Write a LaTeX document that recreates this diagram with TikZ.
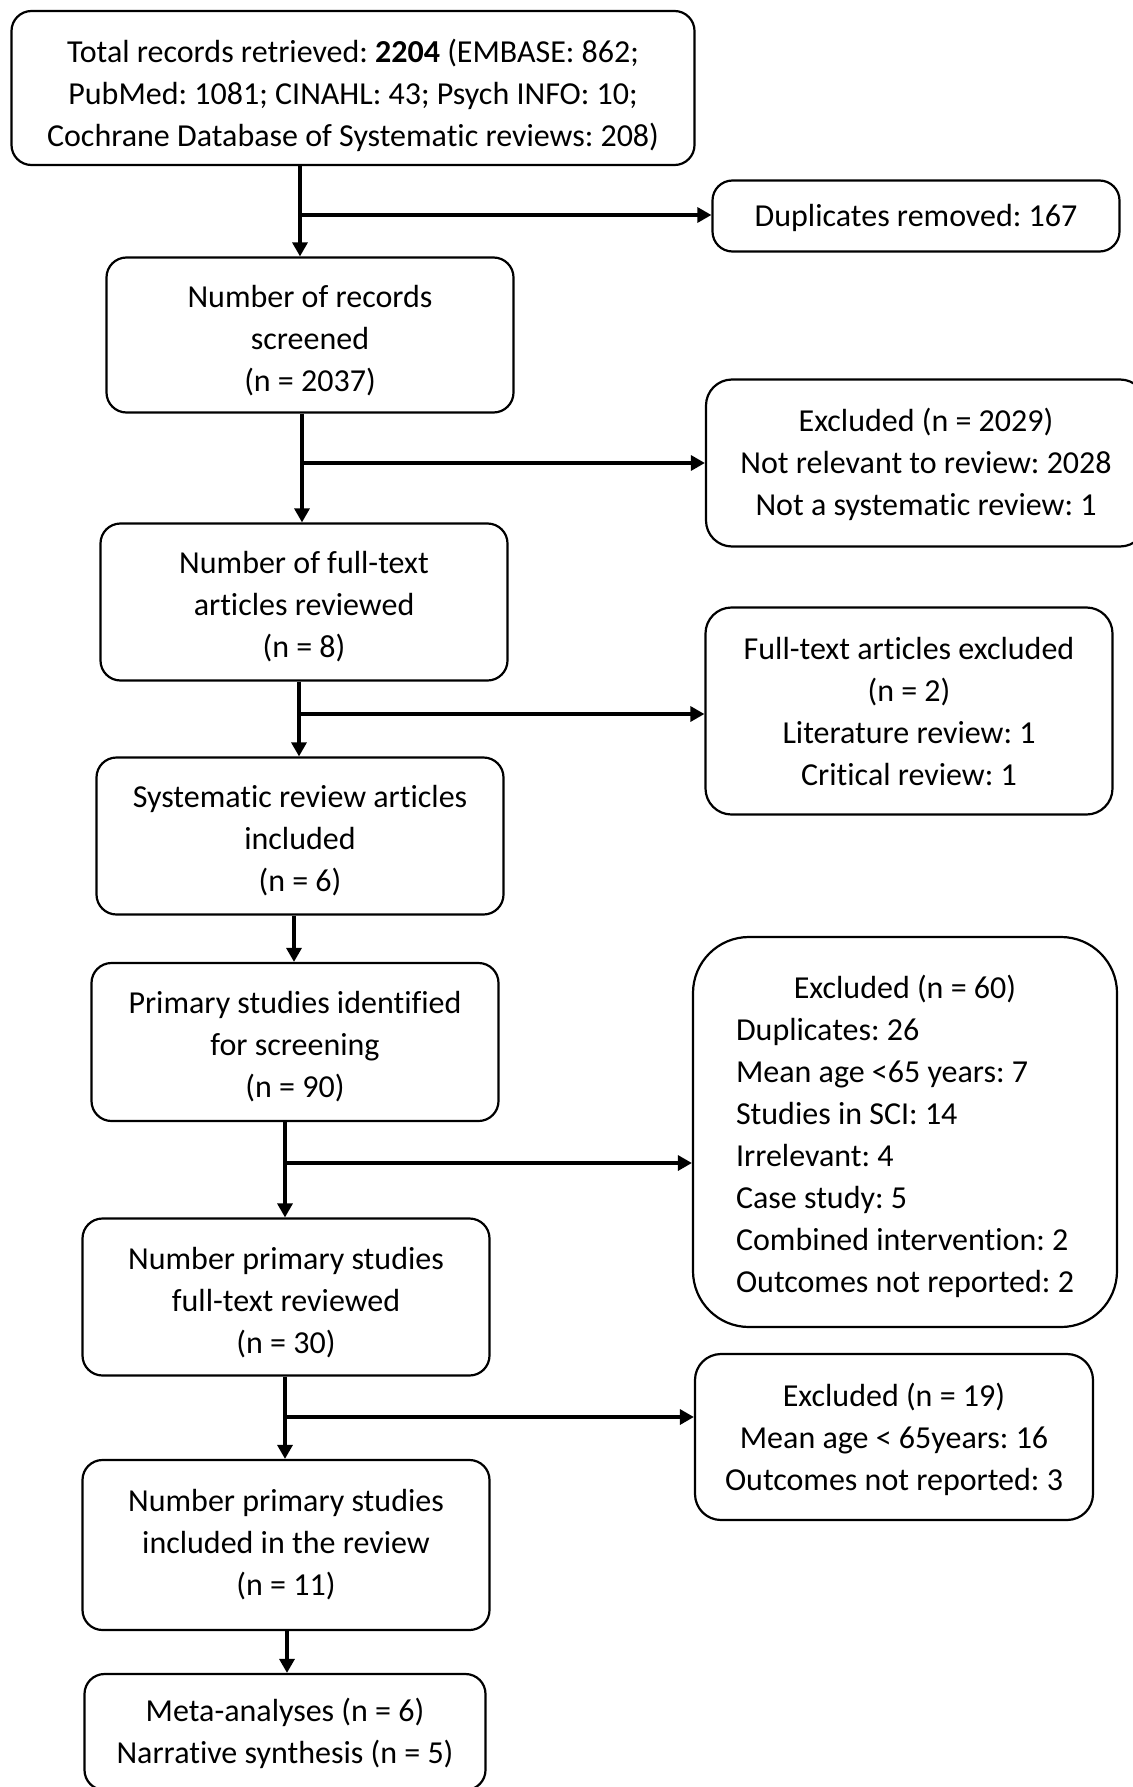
\documentclass[tikz,border=0pt]{standalone}
\usepackage{fontspec}
\setmainfont{Carlito}[Ligatures=NoCommon]
\frenchspacing
\usetikzlibrary{arrows.meta, positioning}
% centred lines; the optional height lowers the text a little
\newcommand{\boxlines}[2][0pt]{\begin{tabular}{@{}c@{}}\rule{0pt}{#1}#2\end{tabular}}
\tikzset{
  every picture/.style={font=\fontsize{16}{21}\selectfont},
  box/.style={draw, line width=1.1pt, rounded corners=10pt, inner sep=0pt, minimum width=#1},
  box/.default=203.5pt,
  flow/.style={-{Triangle[length=7pt, width=7.5pt]}, line width=1.6pt},
}
\begin{document}
\begin{tikzpicture}[x=0.5pt, y=-0.5pt]
  \useasboundingbox (0,0) rectangle (1132,1787);
  % main column
  \node[box=341.5pt, minimum height=77pt] (total) at (353,88)
    {\boxlines[23pt]{Total records retrieved: \textbf{2204} (EMBASE: 862;\\
     PubMed: 1081; CINAHL: 43; Psych INFO: 10;\\
     Cochrane Database of Systematic reviews: 208)}};
  \node[box, minimum height=77.5pt] (screened) at (310,335)
    {\boxlines[21pt]{Number of records\\ screened\\ (n = 2037)}};
  \node[box, minimum height=78.5pt] (fulltext) at (304,602)
    {\boxlines[20pt]{Number of full-text\\ articles reviewed\\ (n = 8)}};
  \node[box, minimum height=78.5pt] (sysrev) at (300,836)
    {\boxlines[20pt]{Systematic review articles\\ included\\ (n = 6)}};
  \node[box, minimum height=79pt] (primary) at (295,1042)
    {\boxlines[20pt]{Primary studies identified\\ for screening\\ (n = 90)}};
  \node[box, minimum height=78.5pt] (primfull) at (286,1297)
    {\boxlines[20.5pt]{Number primary studies\\ full-text reviewed\\ (n = 30)}};
  \node[box, minimum height=85pt] (included) at (286,1545)
    {\boxlines{Number primary studies\\ included in the review\\ (n = 11)}};
  \node[box=200.5pt, minimum height=58pt] (synth) at (285,1732)
    {\boxlines[17pt]{Meta-analyses (n = 6)\\ Narrative synthesis (n = 5)}};
  % exclusion boxes
  \node[box, minimum height=35.5pt] (dup) at (916,216) {\boxlines[17pt]{Duplicates removed: 167}};
  \node[box=220pt, minimum height=83.5pt, rounded corners=13pt] (excl1) at (926,463)
    {\boxlines[16.5pt]{Excluded (n = 2029)\\ Not relevant to review: 2028\\ Not a systematic review: 1}};
  \node[box, minimum height=103.5pt, rounded corners=13pt] (excl2) at (909,711)
    {\boxlines[18pt]{Full-text articles excluded\\ (n = 2)\\ Literature review: 1\\ Critical review: 1}};
  \node[box=212pt, minimum height=195pt, rounded corners=28pt] (excl3) at (905,1132)
    {\begin{tabular}{@{}l@{}}
      \multicolumn{1}{@{}c@{}}{\rule{0pt}{20pt}Excluded (n = 60)}\\
      Duplicates: 26\\
      Mean age <65 years: 7\\
      Studies in SCI: 14\\
      Irrelevant: 4\\
      Case study: 5\\
      Combined intervention: 2\\
      Outcomes not reported: 2
    \end{tabular}};
  \node[box=199pt, minimum height=83pt, rounded corners=13pt] (excl4) at (894,1437)
    {\boxlines[18pt]{Excluded (n = 19)\\ Mean age < 65years: 16\\ Outcomes not reported: 3}};
  % junctions
  \coordinate (j1) at (300,215);
  \coordinate (j2) at (302,463);
  \coordinate (j3) at (299,714);
  \coordinate (j4) at (294,940);
  \coordinate (j5) at (285,1163);
  \coordinate (j6) at (285,1417);
  \coordinate (j7) at (287,1650);
  % connectors
  \draw[flow] (total.south -| j1) -- (screened.north -| j1);
  \draw[flow] (j1) -- (dup.west |- j1);
  \draw[flow] (screened.south -| j2) -- (fulltext.north -| j2);
  \draw[flow] (j2) -- (excl1.west |- j2);
  \draw[flow] (fulltext.south -| j3) -- (sysrev.north -| j3);
  \draw[flow] (j3) -- (excl2.west |- j3);
  \draw[flow] (sysrev.south -| j4) -- (primary.north -| j4);
  \draw[flow] (primary.south -| j5) -- (primfull.north -| j5);
  \draw[flow] (j5) -- (excl3.west |- j5);
  \draw[flow] (primfull.south -| j6) -- (included.north -| j6);
  \draw[flow] (j6) -- (excl4.west |- j6);
  \draw[flow] (included.south -| j7) -- (synth.north -| j7);
\end{tikzpicture}
\end{document}
